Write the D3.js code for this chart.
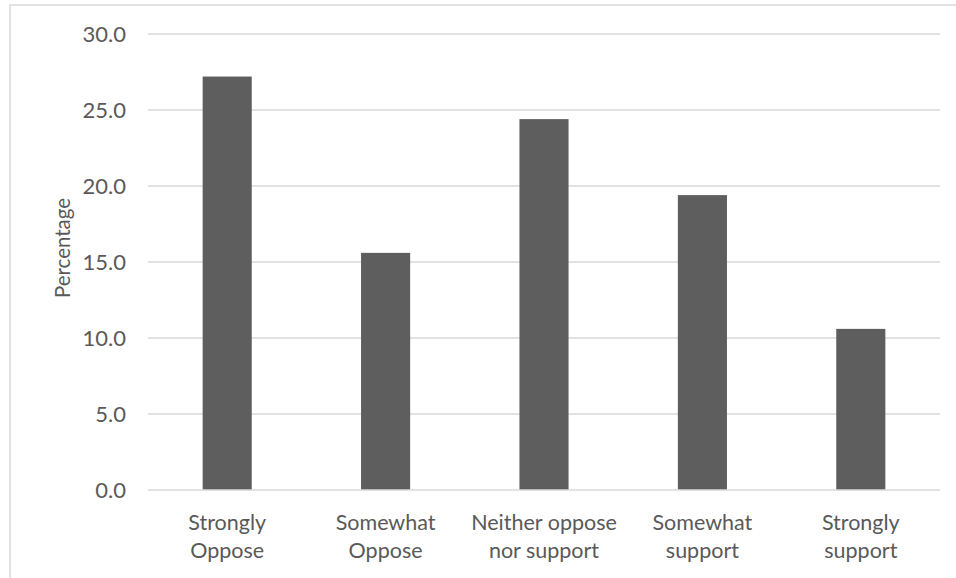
<!DOCTYPE html>
<html>
<head>
<meta charset="utf-8">
<script src="https://cdn.jsdelivr.net/npm/d3@7/dist/d3.min.js"></script>
<style>
  html, body { margin: 0; padding: 0; background: #fff; }
  svg { display: block; }
  text { font-family: Lato, "Open Sans", sans-serif; fill: #595959; }
</style>
</head>
<body>
<svg id="chart" width="956" height="578"></svg>
<script>
// Survey responses, percentage of respondents
const categories = [
  ["Strongly", "Oppose"],
  ["Somewhat", "Oppose"],
  ["Neither oppose", "nor support"],
  ["Somewhat", "support"],
  ["Strongly", "support"]
];
const percentages = [27.2, 15.6, 24.4, 19.4, 10.6];
const yTicks = [0, 5, 10, 15, 20, 25, 30];
const yTitle = "Percentage";

const svg = d3.select("#chart");
const W = 956, H = 578;

// chart-area frame
svg.append("rect")
  .attr("x", 10).attr("y", 5)
  .attr("width", W).attr("height", H)
  .attr("fill", "none")
  .attr("stroke", "#d9d9d9")
  .attr("stroke-width", 1.5);

const plot = { left: 148, right: 940, top: 34, bottom: 490 };

const keys = categories.map(c => c.join(" "));
const x = d3.scaleBand()
  .domain(keys)
  .range([plot.left, plot.right])
  .paddingInner(0.69)
  .paddingOuter(0.345);

const y = d3.scaleLinear()
  .domain([0, 30])
  .range([plot.bottom, plot.top]);

// horizontal gridlines
svg.append("g")
  .selectAll("line")
  .data(yTicks.filter(t => t > 0))
  .join("line")
  .attr("x1", plot.left).attr("x2", plot.right)
  .attr("y1", d => y(d)).attr("y2", d => y(d))
  .attr("stroke", "#d9d9d9")
  .attr("stroke-width", 1.5);

// y axis labels
const yAxis = svg.append("g")
  .attr("transform", `translate(${plot.left - 22},0)`)
  .call(d3.axisLeft(y).tickValues(yTicks).tickFormat(d3.format(".1f")).tickSize(0).tickPadding(0));
yAxis.select(".domain").remove();
yAxis.selectAll("text")
  .style("font-size", "22px")
  .attr("fill", "#595959")
  .attr("dy", "0.35em");

// bars
svg.append("g")
  .selectAll("rect")
  .data(percentages)
  .join("rect")
  .attr("x", (d, i) => x(keys[i]))
  .attr("width", x.bandwidth())
  .attr("y", d => y(d))
  .attr("height", d => y(0) - y(d))
  .attr("fill", "#5e5e5e");

// baseline
svg.append("line")
  .attr("x1", plot.left).attr("x2", plot.right)
  .attr("y1", y(0)).attr("y2", y(0))
  .attr("stroke", "#d9d9d9")
  .attr("stroke-width", 1.5);

// category labels (two lines each)
const xl = svg.append("g")
  .selectAll("text")
  .data(categories)
  .join("text")
  .attr("text-anchor", "middle")
  .attr("x", (d, i) => x(keys[i]) + x.bandwidth() / 2)
  .attr("y", 530)
  .style("font-size", "21.5px");
xl.selectAll("tspan")
  .data(d => d)
  .join("tspan")
  .attr("x", function () { return d3.select(this.parentNode).attr("x"); })
  .attr("dy", (d, i) => i === 0 ? 0 : 28)
  .text(d => d);

// y axis title
svg.append("text")
  .attr("transform", "translate(70,248) rotate(-90)")
  .attr("text-anchor", "middle")
  .style("font-size", "20.5px")
  .text(yTitle);
</script>
</body>
</html>
